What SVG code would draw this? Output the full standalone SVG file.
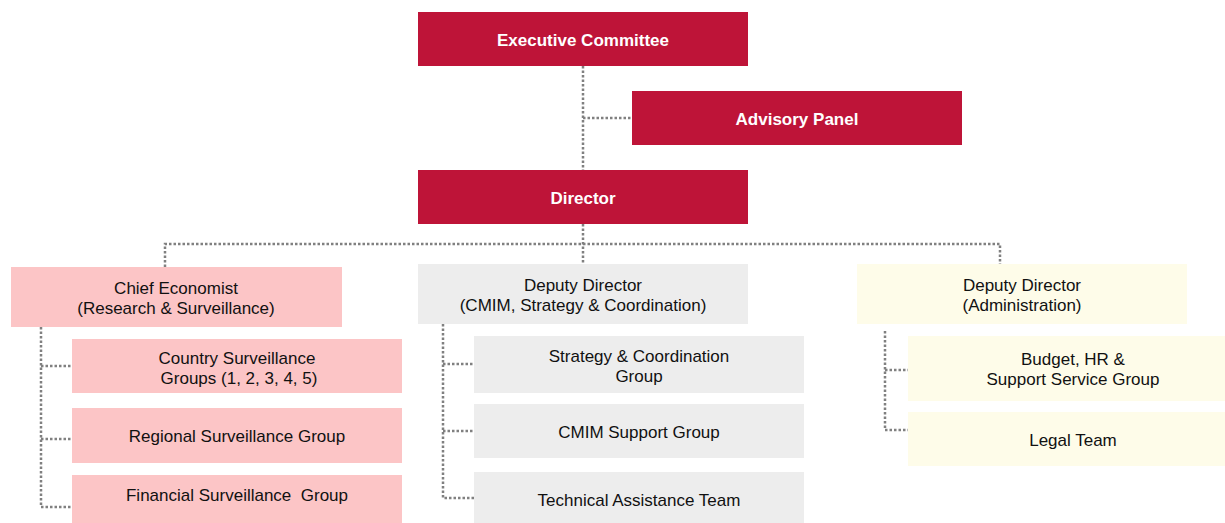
<svg xmlns="http://www.w3.org/2000/svg" width="1225" height="523" viewBox="0 0 1225 523">
<style>
.red{fill:#BE1438}
.pink{fill:#FCC5C6}
.grey{fill:#EDEDED}
.cream{fill:#FEFCE9}
.tw{font-family:"Liberation Sans",Arial,sans-serif;font-size:17px;font-weight:bold;fill:#fff;text-anchor:middle}
.tb{font-family:"Liberation Sans",Arial,sans-serif;font-size:17px;fill:#111;text-anchor:middle}
.con{fill:none;stroke:#808080;stroke-width:2.5;stroke-dasharray:2.5 2}
</style>
<rect width="1225" height="523" fill="#fff"/>
<g id="connectors">
<path class="con" d="M583 66V170"/>
<path class="con" d="M583 118H632"/>
<path class="con" d="M583 224V264"/>
<path class="con" d="M165 267V244H1000V264"/>
<path class="con" d="M41 327V507H72M41 366H72M41 439H72"/>
<path class="con" d="M443 324V498H474M443 364H474M443 431H474"/>
<path class="con" d="M885 331V430H908M885 370H908"/>
</g>
<g id="exec"><rect class="red" x="418" y="12" width="330" height="54"/><text class="tw" x="583" y="46">Executive Committee</text></g>
<g id="advisory"><rect class="red" x="632" y="91" width="330" height="54"/><text class="tw" x="797" y="125">Advisory Panel</text></g>
<g id="director"><rect class="red" x="418" y="170" width="330" height="54"/><text class="tw" x="583" y="204">Director</text></g>
<g id="chief"><rect class="pink" x="11" y="267" width="331" height="60"/><text class="tb" x="176" y="294">Chief Economist</text><text class="tb" x="176" y="314">(Research &amp; Surveillance)</text></g>
<g id="country"><rect class="pink" x="72" y="339" width="330" height="54"/><text class="tb" x="237" y="364">Country Surveillance</text><text class="tb" x="239" y="384">Groups (1, 2, 3, 4, 5)</text></g>
<g id="regional"><rect class="pink" x="72" y="408" width="330" height="55"/><text class="tb" x="237" y="442">Regional Surveillance Group</text></g>
<g id="financial"><rect class="pink" x="72" y="475" width="330" height="54"/><text class="tb" x="237" y="501" xml:space="preserve">Financial Surveillance  Group</text></g>
<g id="deputy-cmim"><rect class="grey" x="418" y="264" width="330" height="60"/><text class="tb" x="583" y="291">Deputy Director</text><text class="tb" x="583" y="311">(CMIM, Strategy &amp; Coordination)</text></g>
<g id="strategy"><rect class="grey" x="474" y="336" width="330" height="57"/><text class="tb" x="639" y="362">Strategy &amp; Coordination</text><text class="tb" x="639" y="382">Group</text></g>
<g id="cmim"><rect class="grey" x="474" y="404" width="330" height="54"/><text class="tb" x="639" y="438">CMIM Support Group</text></g>
<g id="technical"><rect class="grey" x="474" y="472" width="330" height="54"/><text class="tb" x="639" y="506">Technical Assistance Team</text></g>
<g id="deputy-admin"><rect class="cream" x="857" y="264" width="330" height="60"/><text class="tb" x="1022" y="291">Deputy Director</text><text class="tb" x="1022" y="311">(Administration)</text></g>
<g id="budget"><rect class="cream" x="908" y="336" width="330" height="65"/><text class="tb" x="1073" y="365">Budget, HR &amp;</text><text class="tb" x="1073" y="385">Support Service Group</text></g>
<g id="legal"><rect class="cream" x="908" y="412" width="330" height="54"/><text class="tb" x="1073" y="446">Legal Team</text></g>
</svg>
